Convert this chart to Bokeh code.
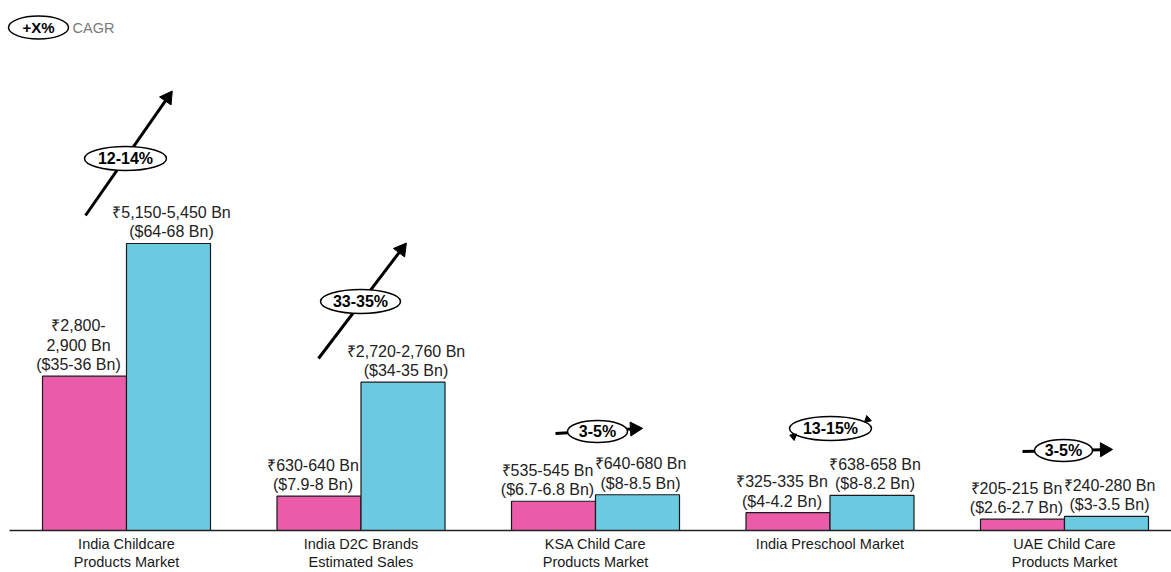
import math
from bokeh.plotting import figure
from bokeh.models import Range1d, ColumnDataSource
from bokeh.core.properties import value
from bokeh.embed import file_html
from bokeh.resources import INLINE

# ---------------- data ----------------
categories = ["India Childcare\nProducts Market", "India D2C Brands\nEstimated Sales",
              "KSA Child Care\nProducts Market", "India Preschool Market",
              "UAE Child Care\nProducts Market"]
base_values = [2850, 635, 540, 330, 210]          # ₹ Bn (mid of range)
future_values = [5300, 2740, 660, 648, 260]       # ₹ Bn (mid of range)
base_inr = ["₹2,800-\n2,900 Bn", "₹630-640 Bn", "₹535-545 Bn", "₹325-335 Bn", "₹205-215 Bn"]
base_usd = ["($35-36 Bn)", "($7.9-8 Bn)", "($6.7-6.8 Bn)", "($4-4.2 Bn)", "($2.6-2.7 Bn)"]
future_inr = ["₹5,150-5,450 Bn", "₹2,720-2,760 Bn", "₹640-680 Bn", "₹638-658 Bn", "₹240-280 Bn"]
future_usd = ["($64-68 Bn)", "($34-35 Bn)", "($8-8.5 Bn)", "($8-8.2 Bn)", "($3-3.5 Bn)"]
cagr = ["12-14%", "33-35%", "3-5%", "13-15%", "3-5%"]

PINK = "#EA5BAA"
BLUE = "#6BC9E0"
FONT = "Liberation Sans"

# ---------------- geometry ----------------
W, H = 1171, 572
GROUP_PX = 234.5                 # px per category unit
K = 5300 / 287.0                 # value units per px
BASE_PX = 530                    # axis line, px from top
X0 = -126 / GROUP_PX
X1 = X0 + W / GROUP_PX
Y0 = -(H - BASE_PX) * K
Y1 = BASE_PX * K
BW = 84 / GROUP_PX


def px(page_x):
    return X0 + page_x / GROUP_PX


def py(page_y):
    return (BASE_PX - page_y) * K


p = figure(width=W, height=H, output_backend="svg", toolbar_location=None,
           x_range=Range1d(X0, X1), y_range=Range1d(Y0, Y1),
           min_border=0, outline_line_color=None)
p.xaxis.visible = False
p.yaxis.visible = False
p.xgrid.visible = False
p.ygrid.visible = False
p.background_fill_color = "white"

idx = list(range(len(categories)))
xb = [i - BW / 2 for i in idx]
xf = [i + BW / 2 for i in idx]

p.vbar(x=xb, top=base_values, bottom=0, width=BW, fill_color=PINK,
       line_color="#1a1a1a", line_width=1.2)
p.vbar(x=xf, top=future_values, bottom=0, width=BW, fill_color=BLUE,
       line_color="#1a1a1a", line_width=1.2)

# axis line
p.segment(x0=[px(9)], y0=[0], x1=[X1], y1=[0], line_color="#222222", line_width=1.5)

# category labels
p.text(x=idx, y=[0] * len(idx), text=categories, text_align="center",
       text_baseline="top", y_offset=5, text_font=value(FONT),
       text_font_size="14.5px", text_color="#1a1a1a", text_line_height=1.15)

# value labels
lab_src = ColumnDataSource(dict(
    x=xb + xf,
    y=base_values + future_values,
    t=[a + "\n" + b for a, b in zip(base_inr, base_usd)] +
      [a + "\n" + b for a, b in zip(future_inr, future_usd)],
    xo=[-6] * len(idx) + [3] * len(idx),
))
p.text(x="x", y="y", text="t", source=lab_src, x_offset="xo", y_offset=-3,
       text_align="center", text_baseline="bottom", text_font=value(FONT),
       text_font_size="16px", text_color="#222222", text_line_height=1.15)

# ---------------- CAGR arrows & ellipses ----------------
arrows = [((85, 215), (170, 93)), ((318, 358), (404, 245)),
          ((555, 433), (639, 428)), ((1022, 451), (1109, 449))]
ell = [(125, 158, 82, 24), (360, 301, 80, 24), (597, 431, 60, 22),
       (830, 428, 82, 24), (1063, 450, 58, 22)]

sx0, sy0, sx1, sy1, hx, hy, ha = [], [], [], [], [], [], []
for (sx, sy), (ex, ey) in arrows:
    dx, dy = ex - sx, sy - ey
    L = math.hypot(dx, dy)
    ux, uy = dx / L, dy / L
    sx0.append(px(sx)); sy0.append(py(sy))
    sx1.append(px(ex - ux * 8)); sy1.append(py(ey + uy * 8))
    hx.append(px(ex - ux * 5)); hy.append(py(ey + uy * 5))
    ha.append(math.atan2(dy, dx) - math.pi / 2)

p.segment(x0=sx0, y0=sy0, x1=sx1, y1=sy1, line_color="black", line_width=3)
p.scatter(x=hx, y=hy, marker="triangle", size=14, angle=ha,
          fill_color="black", line_color="black")

ex_ = [px(e[0]) for e in ell]
ey_ = [py(e[1]) for e in ell]
p.ellipse(x=ex_, y=ey_, width=[e[2] for e in ell], height=[e[3] for e in ell],
          width_units="screen", height_units="screen",
          fill_color="white", line_color="black", line_width=1.5)
p.text(x=ex_, y=ey_, text=cagr, text_align="center", text_baseline="middle",
       text_font=value(FONT), text_font_size="16px", text_font_style="bold",
       text_color="black")

# little circular arrow heads on the preschool ellipse
p.scatter(x=[px(867), px(793)], y=[py(419), py(436)], marker="triangle",
          size=7, angle=[-1.9, 1.2], fill_color="black", line_color="black")

# legend
p.ellipse(x=[px(38)], y=[py(27)], width=[60], height=[23], width_units="screen",
          height_units="screen", fill_color="white", line_color="black", line_width=1.5)
p.text(x=[px(38)], y=[py(27)], text=["+X%"], text_align="center", text_baseline="middle",
       text_font=value(FONT), text_font_size="15px", text_font_style="bold",
       text_color="black")
p.text(x=[px(72)], y=[py(27)], text=["CAGR"], text_align="left", text_baseline="middle",
       text_font=value(FONT), text_font_size="14.5px", text_color="#7a7a7a")

open("out.html", "w").write(file_html(p, INLINE))
